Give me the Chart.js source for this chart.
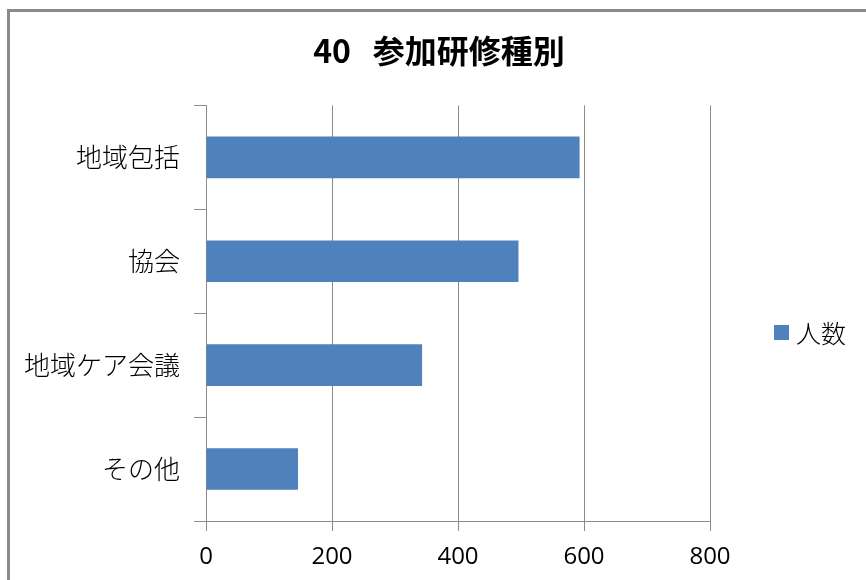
<!DOCTYPE html>
<html>
<head>
<meta charset="utf-8">
<script src="https://cdn.jsdelivr.net/npm/chart.js@4.4.1/dist/chart.umd.min.js"></script>
<style>
  html, body { margin:0; padding:0; background:#fff; overflow:hidden; }
  #frame { position:absolute; left:7px; top:9px; width:900px; height:620px; border:3px solid #8a8a8a; background:#fff; }
  #c { position:absolute; left:0; top:0; }
</style>
</head>
<body>
<div id="frame"></div>
<canvas id="c" width="866" height="580"></canvas>
<script>
// データ
const categories = ['地域包括', '協会', '地域ケア会議', 'その他'];
const ninzu = [593, 496, 343, 146];
const seriesLabel = '人数';
const titleText = '40   参加研修種別';
const xMax = 800;
const xStep = 200;

const AZUL = '#4f81bd';
const GRIS = '#8a8a8a';
const CJK = '"Noto Sans CJK JP", sans-serif';

// 凡例（右側）
const leyenda = {
  id: 'leyenda',
  afterDraw(chart){
    const ds = chart.data.datasets[0];
    const ctx = chart.ctx;
    const x = chart.chartArea.right + 64;
    const y = 332;
    ctx.save();
    ctx.fillStyle = ds.backgroundColor;
    ctx.fillRect(x, y - 7, 15, 15);
    ctx.fillStyle = '#000';
    ctx.font = '300 25px ' + CJK;
    ctx.textBaseline = 'middle';
    ctx.textAlign = 'left';
    ctx.fillText(ds.label, x + 22, y + 1);
    ctx.restore();
  }
};

new Chart(document.getElementById('c'), {
  type: 'bar',
  data: {
    labels: categories,
    datasets: [{
      label: seriesLabel,
      data: ninzu,
      backgroundColor: AZUL,
      borderWidth: 0,
      categoryPercentage: 0.8,
      barPercentage: 0.5
    }]
  },
  options: {
    indexAxis: 'y',
    responsive: false,
    animation: false,
    devicePixelRatio: 1,
    layout: { padding: { left: 12, right: 0, top: 0, bottom: 0 } },
    plugins: {
      legend: { display: false },
      tooltip: { enabled: false },
      title: {
        display: true,
        text: titleText,
        color: '#000',
        font: { family: CJK, size: 32, weight: 'bold' },
        padding: { top: 32, bottom: 35 }
      }
    },
    scales: {
      x: {
        min: 0, max: xMax,
        ticks: { stepSize: xStep, color: '#000', padding: 12, font: { family: '"Open Sans", sans-serif', size: 24 } },
        grid: { color: GRIS, lineWidth: 1, tickLength: 10 },
        border: { color: GRIS, width: 1 },
        afterFit(s){ s.height = 59; }
      },
      y: {
        ticks: { color: '#000', padding: 14, font: { family: CJK, size: 26, weight: '300' } },
        grid: { drawOnChartArea: false, color: GRIS, tickLength: 12, offset: true },
        border: { color: GRIS, width: 1 },
        afterFit(s){ s.width = 194; }
      },
      hueco: {
        type: 'linear',
        position: 'right',
        display: true,
        ticks: { display: false },
        grid: { display: false },
        border: { display: false },
        afterFit(s){ s.width = 156; }
      }
    }
  },
  plugins: [leyenda]
});
</script>
</body>
</html>
